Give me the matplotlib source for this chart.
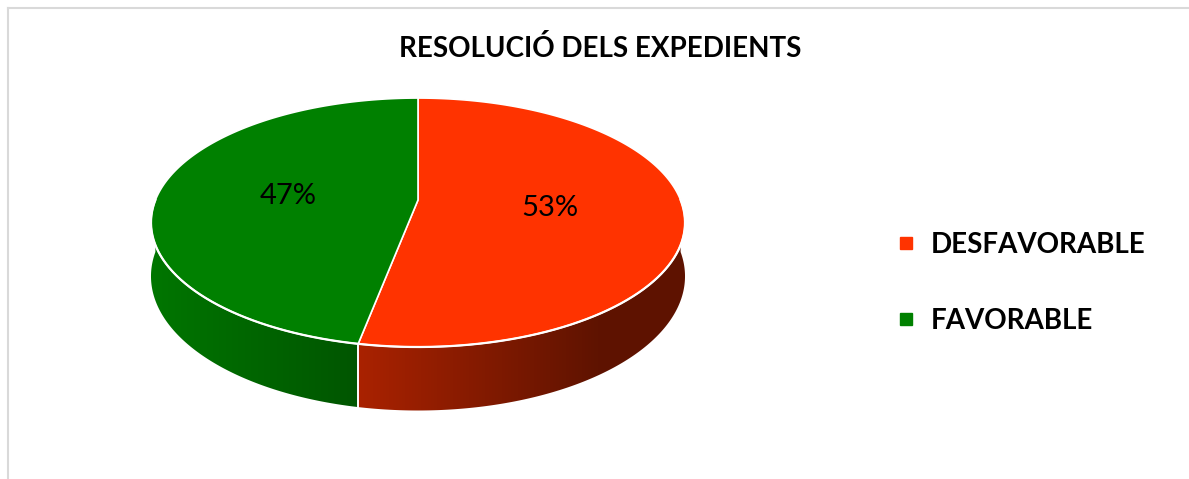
import matplotlib
matplotlib.use("Agg")
import matplotlib.pyplot as plt
import numpy as np
from matplotlib.patches import Polygon
from matplotlib.lines import Line2D

# ── Data ───────────────────────────────────────────────────────────────────
title = "RESOLUCIÓ DELS EXPEDIENTS"
labels = ["DESFAVORABLE", "FAVORABLE"]
values = [53, 47]
top_colors = ["#FF3300", "#008000"]

# ── Geometry (pixel space) ─────────────────────────────────────────────────
W, H = 1189, 479
CX, CY = 418, 200          # projected centre of the disc
A, B = 262.6, 120.4        # half axes of the top face
K = 0.181                  # perspective foreshortening
DEPTH = 52                 # wall height


def project(phi_deg, r=1.0, drop=0.0):
    phi = np.radians(phi_deg)
    X, Y = r * np.cos(phi), r * np.sin(phi)
    s = 1.0 / (1.0 + K * Y)
    return CX + A * X * s, CY - B * Y * s + drop * s


def arc(a0, a1, n=200, drop=0.0):
    phis = np.linspace(a0, a1, n)
    xs, ys = project(phis, drop=drop)
    return np.column_stack([xs, ys])


def front_part(a_hi, a_lo):
    """part of the angle range [a_lo, a_hi] that lies in the front half"""
    for shift in (-360, 0, 360):
        lo, hi = max(a_lo + shift, -180), min(a_hi + shift, 0)
        if hi > lo:
            return hi, lo
    return None


def shade(rgb, t):
    f = np.clip(0.92 - 0.655 * t, 0.37, 1.0)
    return np.clip(np.outer(f, rgb), 0, 1)


plt.rcParams["font.family"] = ["Lato", "DejaVu Sans"]
fig = plt.figure(figsize=(W / 100, H / 100), dpi=100)
ax = fig.add_axes([0, 0, 1, 1])
ax.set_xlim(0, W)
ax.set_ylim(H, 0)
ax.axis("off")

# chart frame (only top/left edge shows in the crop)
ax.plot([8, W], [8, 8], color="#D9D9D9", lw=1.5)
ax.plot([8, 8], [8, H], color="#D9D9D9", lw=1.5)

total = float(sum(values))
angles = [90.0]
for v in values:
    angles.append(angles[-1] - 360.0 * v / total)

x_left, x_right = CX - A * 1.02, CX + A * 1.02
cols = np.linspace(0, 1, 400)

# side walls with horizontal shading
for i, col in enumerate(top_colors):
    part = front_part(angles[i], angles[i + 1])
    if part is None:
        continue
    hi, lo = part
    pts = np.vstack([arc(hi, lo), arc(lo, hi, drop=DEPTH)])
    poly = Polygon(pts, closed=True, facecolor="none", edgecolor="none")
    ax.add_patch(poly)
    rgb = np.array(matplotlib.colors.to_rgb(col))
    img = shade(rgb, cols)[None, :, :]
    im = ax.imshow(img, extent=(x_left, x_right, CY + B * 1.5 + DEPTH * 1.3, CY - 10),
                   aspect="auto", interpolation="bilinear", zorder=1)
    im.set_clip_path(poly)
    # seam between walls
    for edge in (hi, lo):
        if -179 < edge < -1:
            x0, y0 = project(edge)
            x1, y1 = project(edge, drop=DEPTH)
            ax.plot([x0, x1], [y0, y1], color="white", lw=1.2, zorder=2)

ax.set_xlim(0, W)
ax.set_ylim(H, 0)

# top face
for i, col in enumerate(top_colors):
    pts = np.vstack([[CX, CY], arc(angles[i], angles[i + 1])])
    ax.add_patch(Polygon(pts, closed=True, facecolor=col, edgecolor="white",
                         lw=1.2, joinstyle="round", zorder=3))
rim = arc(-180, 0)
ax.plot(rim[:, 0], rim[:, 1], color="white", lw=1.6, zorder=4)

# percentage labels
for i, v in enumerate(values):
    mid = (angles[i] + angles[i + 1]) / 2
    lx, ly = project(mid, r=0.5)
    ax.text(lx, ly + 2, f"{round(100 * v / total)}%", fontsize=21,
            ha="center", va="center", color="black", zorder=5)

ax.text(600, 48, title, fontsize=20, fontweight="bold", ha="center",
        va="center", color="black")

handles = [Line2D([], [], marker="s", ls="none", markersize=8,
                  markerfacecolor=c, markeredgecolor=c) for c in top_colors]
ax.legend(handles, labels, loc="center left", bbox_to_anchor=(0.755, 0.41),
          frameon=False, prop={"weight": "bold", "size": 20},
          handlelength=0.6, handletextpad=0.6, labelspacing=1.8,
          borderpad=0, borderaxespad=0)

fig.savefig("out.png", dpi=100)
